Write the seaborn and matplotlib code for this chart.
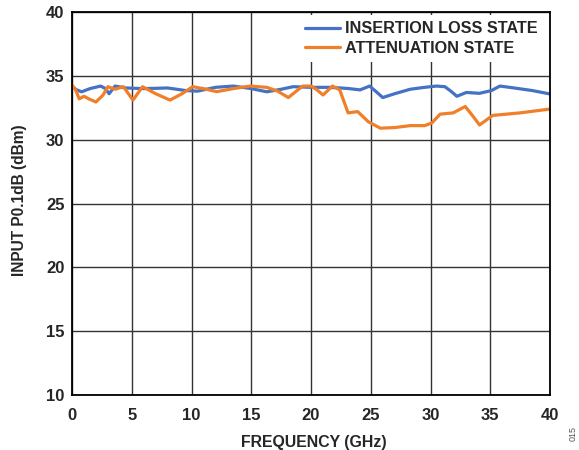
import numpy as np
import pandas as pd
import matplotlib
matplotlib.use("Agg")
import matplotlib.pyplot as plt
import seaborn as sns

# values
freq_il = [0, 0.4, 0.8, 1.5, 2.4, 2.8, 3.1, 3.6, 4.5, 6, 8, 9.5, 10.5, 12, 13.5,
           15, 16.3, 17.5, 18.5, 20, 21.5, 22.5, 23.2, 24.1, 24.9, 25.4, 26.0, 27,
           28.3, 29.5, 30.5, 31.2, 31.7, 32.2, 33.0, 34.1, 35.1, 35.8, 37, 38.5, 40]
p01_il = [34.15, 33.9, 33.75, 34.0, 34.2, 34.0, 33.6, 34.2, 34.05, 34.0, 34.05,
          33.85, 33.8, 34.1, 34.2, 34.0, 33.75, 33.95, 34.15, 34.1, 34.1, 34.05,
          34.0, 33.9, 34.2, 33.8, 33.3, 33.6, 33.95, 34.1, 34.2, 34.15, 33.8, 33.4,
          33.7, 33.63, 33.85, 34.2, 34.05, 33.85, 33.58]

freq_att = [0, 0.3, 0.6, 1.0, 1.4, 2.0, 2.6, 3.0, 3.6, 4.3, 5.1, 5.9, 7, 8.2, 9.2,
            10.1, 11, 12.1, 13.5, 14.9, 16.3, 17.2, 18.1, 19.3, 20.0, 20.5, 21.0,
            21.8, 22.4, 23.1, 23.9, 24.8, 25.8, 27, 28.3, 29.5, 30.1, 30.8, 31.9,
            32.9, 33.5, 34.1, 35.2, 37.5, 40]
p01_att = [34.3, 33.9, 33.2, 33.4, 33.2, 32.95, 33.5, 34.15, 33.95, 34.15, 33.1,
           34.15, 33.6, 33.1, 33.6, 34.15, 34.0, 33.76, 34.0, 34.2, 34.1, 33.8,
           33.3, 34.2, 34.2, 33.9, 33.5, 34.2, 33.9, 32.1, 32.2, 31.4, 30.9, 30.95,
           31.1, 31.1, 31.3, 32.0, 32.1, 32.6, 31.9, 31.15, 31.9, 32.1, 32.4]

labels = ["INSERTION LOSS STATE", "ATTENUATION STATE"]
colors = ["#4472C4", "#F07F2A"]

df = pd.concat([
    pd.DataFrame({"freq": freq_il, "p01": p01_il, "state": labels[0]}),
    pd.DataFrame({"freq": freq_att, "p01": p01_att, "state": labels[1]}),
])

sns.set_style("white")
plt.rcParams["font.family"] = ["Liberation Sans", "DejaVu Sans"]

fig = plt.figure(figsize=(5.79, 4.5), dpi=100)
ax = fig.add_axes([0.1244, 0.1222, 0.8256, 0.8511])

sns.lineplot(data=df, x="freq", y="p01", hue="state", palette=colors,
             linewidth=2.3, ax=ax, sort=False, estimator=None,
             solid_joinstyle="round", solid_capstyle="round")

ax.set_xlim(0, 40)
ax.set_ylim(10, 40)
ax.set_xticks(np.arange(0, 41, 5))
ax.set_yticks(np.arange(10, 41, 5))
ax.grid(True, color="#333333", linewidth=1.0)
ax.set_axisbelow(True)
for s in ax.spines.values():
    s.set_color("black")
    s.set_linewidth(1.3)
ax.tick_params(axis="both", length=0, labelsize=12)
ax.tick_params(axis="x", pad=9.5)
ax.tick_params(axis="y", pad=5.5)
for t in ax.get_xticklabels() + ax.get_yticklabels():
    t.set_fontweight("bold")

ax.set_xlabel("FREQUENCY (GHz)", fontsize=11.4, fontweight="bold")
ax.set_ylabel("INPUT P0.1dB (dBm)", fontsize=11.2, fontweight="bold")
ax.xaxis.set_label_coords(0.505, -0.105)
ax.yaxis.set_label_coords(-0.094, 0.509)

leg = ax.legend(loc="upper left", bbox_to_anchor=(0.474, 0.993), frameon=True,
                fontsize=11.7, handlelength=2.15, handletextpad=0.3,
                borderaxespad=0, labelspacing=0.28)
leg.get_frame().set_facecolor("white")
leg.get_frame().set_edgecolor("none")
leg.get_frame().set_alpha(1)
for t in leg.get_texts():
    t.set_fontweight("bold")

fig.text(0.99, 0.02, "015", rotation=90, fontsize=6.5, color="#555555",
         ha="center", va="bottom")

fig.savefig("out.png", dpi=100)
